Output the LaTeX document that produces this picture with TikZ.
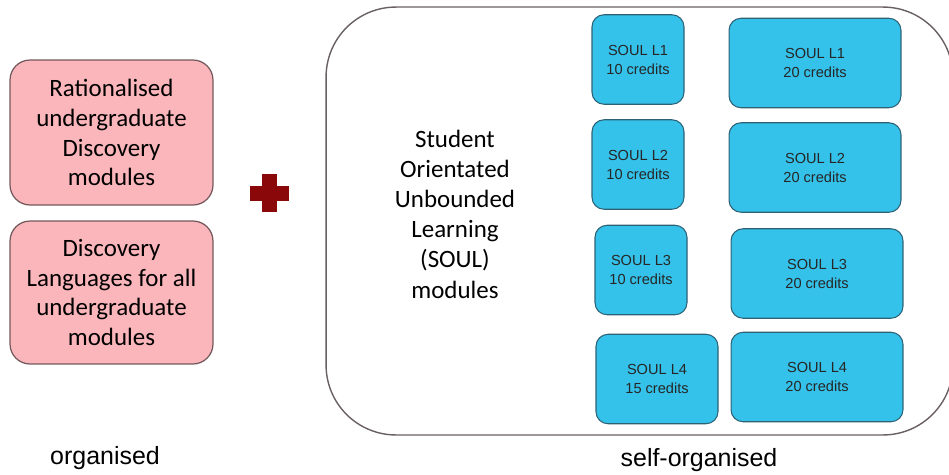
\documentclass[tikz,border=0pt]{standalone}
\usepackage{fontspec}
\setmainfont{Carlito}
\newfontfamily\arialfont{Liberation Sans}
\usetikzlibrary{positioning}

\definecolor{pinkfill}{RGB}{250,182,186}
\definecolor{pinkline}{RGB}{115,88,92}
\definecolor{soulfill}{RGB}{52,194,234}
\definecolor{soulline}{RGB}{45,98,118}
\definecolor{crossred}{RGB}{138,8,10}
\definecolor{frameline}{RGB}{105,95,100}

\begin{document}
\begin{tikzpicture}[x=0.02cm,y=-0.02cm,
  disc/.style={draw=pinkline,fill=pinkfill,line width=0.7pt,rounded corners=0.4cm,
    minimum width=4.06cm,align=center,font=\fontsize{14.2}{17}\selectfont},
  soul/.style={draw=soulline,fill=soulfill,line width=0.6pt,rounded corners=0.24cm,
    minimum height=1.79cm,align=center,text=black!85,
    font=\arialfont\fontsize{8.3}{10.8}\selectfont},
  small/.style={soul,minimum width=1.84cm},
  wide/.style={soul,minimum width=3.44cm},
  caption/.style={font=\arialfont\fontsize{14.2}{17}\selectfont}]
\useasboundingbox (0,0) rectangle (949,474);

% organised side
\node[disc,minimum height=2.9cm] (rational) at (111.5,132.5)
  {Rationalised\\undergraduate\\Discovery\\modules};
\node[disc,minimum height=2.86cm] (languages) at (111.5,292.5)
  {Discovery\\Languages for all\\undergraduate\\modules};

% plus sign
\fill[crossred] (250,186) rectangle (289,201);
\fill[crossred] (262,174) rectangle (277,212);

% self-organised side (runs past the right edge)
\node[draw=frameline,line width=0.8pt,rounded corners=1.4cm,
  minimum width=12.54cm,minimum height=8.56cm] (frame) at (639.5,221) {};
\node[align=center,font=\fontsize{14.2}{17.2}\selectfont] (soultext) at (455,214)
  {Student\\Orientated\\Unbounded\\Learning\\(SOUL)\\modules};

\node[small] (s1) at (638,59.5) {SOUL L1\\10 credits};
\node[small] (s2) at (638,164.5) {SOUL L2\\10 credits};
\node[small] (s3) at (641,270) {SOUL L3\\10 credits};
\node[soul,minimum width=2.44cm] (s4) at (657,379) {SOUL L4\\15 credits};

\node[wide] (w1) at (815,63) {SOUL L1\\20 credits};
\node[wide] (w2) at (815,167.5) {SOUL L2\\20 credits};
\node[wide] (w3) at (817,273.5) {SOUL L3\\20 credits};
\node[wide] (w4) at (817,377) {SOUL L4\\20 credits};

\node[caption] (org) at (105,458) {organised};
\node[caption] (selforg) at (699,460) {self-organised};
\end{tikzpicture}
\end{document}
